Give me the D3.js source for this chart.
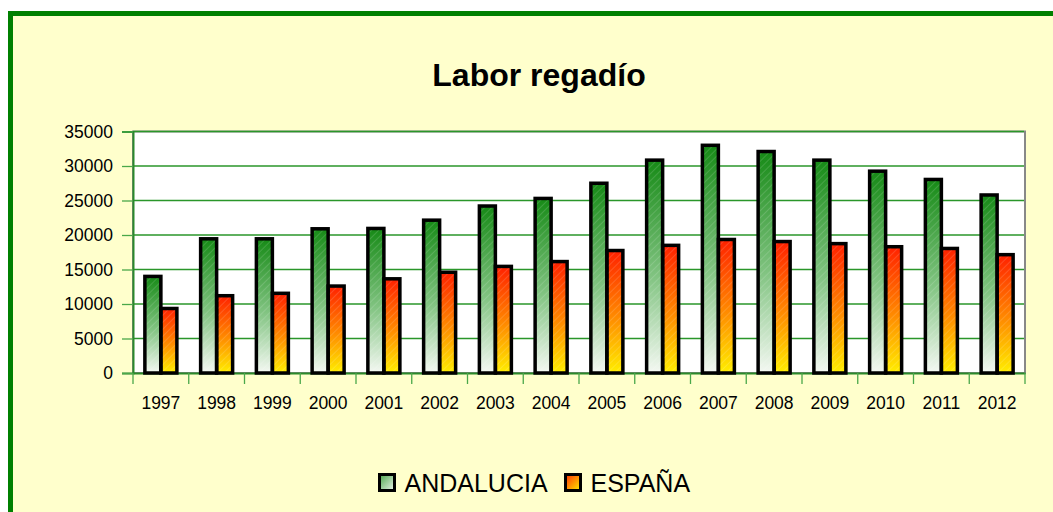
<!DOCTYPE html>
<html>
<head>
<meta charset="utf-8">
<script src="https://cdn.jsdelivr.net/npm/d3@7"></script>
<style>
  body { margin: 0; background: #ffffff; }
  svg { display: block; font-family: "Liberation Sans", Arial, sans-serif; }
</style>
</head>
<body>
<script>
// Chart data
const years = ["1997", "1998", "1999", "2000", "2001", "2002", "2003", "2004",
  "2005", "2006", "2007", "2008", "2009", "2010", "2011", "2012"];
const andalucia = [14000, 19450, 19450, 20900, 20950, 22150, 24200, 25300,
  27500, 30850, 33000, 32100, 30850, 29250, 28050, 25800];
const espana = [9350, 11200, 11550, 12600, 13650, 14600, 15450, 16150,
  17750, 18500, 19350, 19050, 18750, 18300, 18050, 17150];
const seriesNames = ["ANDALUCIA", "ESPAÑA"];
const yTicks = [0, 5000, 10000, 15000, 20000, 25000, 30000, 35000];

const W = 1053, H = 512;
const plot = { left: 133, top: 131.5, right: 1025, bottom: 373 };

const svg = d3.select("body").append("svg")
  .attr("width", W)
  .attr("height", H);

const defs = svg.append("defs");

// vertical gradients for the bars
const gGreen = defs.append("linearGradient").attr("id", "gGreen")
  .attr("x1", 0).attr("y1", 0).attr("x2", 0).attr("y2", 1);
gGreen.append("stop").attr("offset", "0%").attr("stop-color", "#168a16");
gGreen.append("stop").attr("offset", "55%").attr("stop-color", "#82c482");
gGreen.append("stop").attr("offset", "100%").attr("stop-color", "#f4f8f2");

const gOrange = defs.append("linearGradient").attr("id", "gOrange")
  .attr("x1", 0).attr("y1", 0).attr("x2", 0).attr("y2", 1);
gOrange.append("stop").attr("offset", "0%").attr("stop-color", "#ff2000");
gOrange.append("stop").attr("offset", "55%").attr("stop-color", "#ff8c00");
gOrange.append("stop").attr("offset", "100%").attr("stop-color", "#ffee00");

// diagonal gradients for legend keys
const lGreen = defs.append("linearGradient").attr("id", "lGreen")
  .attr("x1", 0).attr("y1", 0).attr("x2", 1).attr("y2", 1);
lGreen.append("stop").attr("offset", "0%").attr("stop-color", "#4aa44a");
lGreen.append("stop").attr("offset", "100%").attr("stop-color", "#eef5ee");

const lOrange = defs.append("linearGradient").attr("id", "lOrange")
  .attr("x1", 0).attr("y1", 0).attr("x2", 1).attr("y2", 1);
lOrange.append("stop").attr("offset", "0%").attr("stop-color", "#ff3000");
lOrange.append("stop").attr("offset", "100%").attr("stop-color", "#ffee00");

// faint diagonal hatch on the bars
const stripes = defs.append("pattern").attr("id", "stripes")
  .attr("patternUnits", "userSpaceOnUse")
  .attr("width", 5).attr("height", 5)
  .attr("patternTransform", "rotate(45)");
stripes.append("line")
  .attr("x1", 0).attr("y1", 0).attr("x2", 0).attr("y2", 5)
  .attr("stroke", "#ffffff").attr("stroke-width", 1).attr("stroke-opacity", 0.28);

// outer frame
svg.append("rect")
  .attr("x", 10.5).attr("y", 13.5)
  .attr("width", W + 20).attr("height", H + 20)
  .attr("fill", "#ffffcc")
  .attr("stroke", "#008000")
  .attr("stroke-width", 5);

// title
svg.append("text")
  .attr("x", 539).attr("y", 86)
  .attr("text-anchor", "middle")
  .style("font-size", "32px")
  .style("font-weight", "bold")
  .text("Labor regadío");

// scales
const x = d3.scaleBand().domain(years).range([plot.left, plot.right]);
const groupW = 32;
const xSub = d3.scaleBand().domain(seriesNames).range([0, groupW]);
const y = d3.scaleLinear().domain([0, 35000]).range([plot.bottom, plot.top]);

// plot area
svg.append("rect")
  .attr("x", plot.left).attr("y", plot.top)
  .attr("width", plot.right - plot.left).attr("height", plot.bottom - plot.top)
  .attr("fill", "#ffffff")
  .attr("stroke", "#888888")
  .attr("stroke-width", 2);

// gridlines
svg.append("g")
  .selectAll("line")
  .data(yTicks.slice(1))
  .join("line")
  .attr("x1", plot.left).attr("x2", plot.right - 1)
  .attr("y1", d => y(d)).attr("y2", d => y(d))
  .attr("stroke", "#2a962a")
  .attr("stroke-width", 1.3);

// y axis
const yAxis = svg.append("g")
  .attr("transform", `translate(${plot.left},0)`)
  .call(d3.axisLeft(y).tickValues(yTicks).tickSize(11).tickPadding(9).tickFormat(d3.format("d")));
yAxis.select(".domain").attr("stroke", "#2a8a2a").attr("stroke-width", 2);
yAxis.selectAll(".tick line").attr("stroke", "#4aa84a").attr("stroke-width", 1.3);
yAxis.selectAll("text").style("font-size", "17.5px").attr("fill", "#000");

// x axis
const xAxis = svg.append("g")
  .attr("transform", `translate(0,${plot.bottom})`)
  .call(d3.axisBottom(x).tickSize(0).tickPadding(24));
xAxis.select(".domain").attr("stroke", "#2a8a2a").attr("stroke-width", 2);
xAxis.selectAll("text").style("font-size", "17.5px").attr("fill", "#000");

// x tick marks at category boundaries
svg.append("g")
  .selectAll("line")
  .data(years.concat(["end"]))
  .join("line")
  .attr("x1", (d, i) => i < years.length ? x(d) : plot.right)
  .attr("x2", (d, i) => i < years.length ? x(d) : plot.right)
  .attr("y1", plot.bottom).attr("y2", plot.bottom + 11)
  .attr("stroke", "#4aa84a")
  .attr("stroke-width", 1.3);

// bars
const rows = years.map((yr, i) => ({ year: yr, values: [andalucia[i], espana[i]] }));
const fills = ["url(#gGreen)", "url(#gOrange)"];

const groups = svg.append("g")
  .selectAll("g")
  .data(rows)
  .join("g")
  .attr("transform", d => `translate(${x(d.year) + (x.bandwidth() - groupW) / 2},0)`);

groups.selectAll("rect.bar")
  .data(d => d.values.map((v, j) => ({ name: seriesNames[j], value: v, j })))
  .join("rect")
  .attr("class", "bar")
  .attr("x", d => xSub(d.name))
  .attr("y", d => y(d.value))
  .attr("width", xSub.bandwidth())
  .attr("height", d => y(0) - y(d.value))
  .attr("fill", d => fills[d.j]);

groups.selectAll("rect.hatch")
  .data(d => d.values.map((v, j) => ({ name: seriesNames[j], value: v, j })))
  .join("rect")
  .attr("class", "hatch")
  .attr("x", d => xSub(d.name))
  .attr("y", d => y(d.value))
  .attr("width", xSub.bandwidth())
  .attr("height", d => y(0) - y(d.value))
  .attr("fill", "url(#stripes)")
  .attr("stroke", "#000")
  .attr("stroke-width", 3.5);

// legend
const legendItems = [
  { name: seriesNames[0], fill: "url(#lGreen)", x: 379.5 },
  { name: seriesNames[1], fill: "url(#lOrange)", x: 565.5 }
];
const legend = svg.append("g");
legend.selectAll("rect")
  .data(legendItems)
  .join("rect")
  .attr("x", d => d.x).attr("y", 474.5)
  .attr("width", 15).attr("height", 16)
  .attr("fill", d => d.fill)
  .attr("stroke", "#000")
  .attr("stroke-width", 3);
legend.selectAll("text")
  .data(legendItems)
  .join("text")
  .attr("x", d => d.x + 25).attr("y", 492)
  .style("font-size", "25px")
  .text(d => d.name);
</script>
</body>
</html>
